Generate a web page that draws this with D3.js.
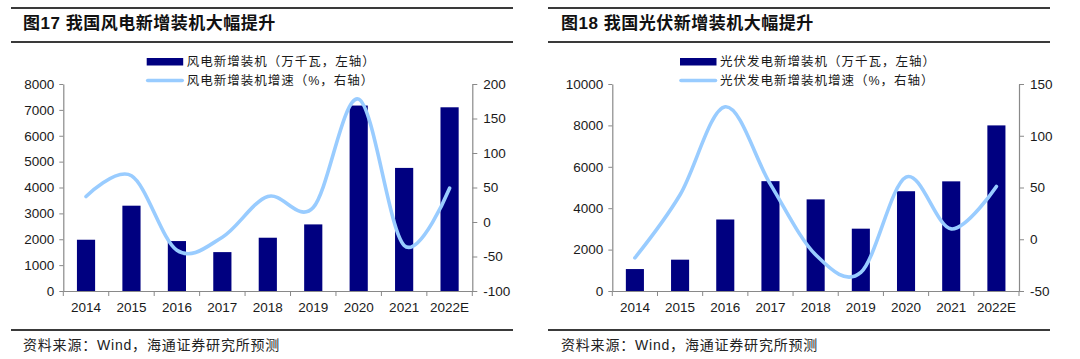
<!DOCTYPE html>
<html>
<head>
<meta charset="utf-8">
<script src="https://cdn.jsdelivr.net/npm/d3@7"></script>
<style>
  html, body { margin: 0; padding: 0; background: #fff; }
  svg { display: block; }
</style>
</head>
<body>
<svg id="chart" width="1080" height="359"></svg>
<script>
// ---------- data ----------
const categories = ['2014', '2015', '2016', '2017', '2018', '2019', '2020', '2021', '2022E'];

const windCapacity = [1981, 3297, 1930, 1503, 2059, 2574, 7167, 4757, 7100];
const windGrowth   = [37, 67, -41, -22, 37, 21, 178, -34, 49];
const windLeftTicks  = [0, 1000, 2000, 3000, 4000, 5000, 6000, 7000, 8000];
const windRightTicks = [-100, -50, 0, 50, 100, 150, 200];

const solarCapacity = [1060, 1513, 3454, 5306, 4426, 3011, 4820, 5297, 8000];
const solarGrowth   = [-18, 43, 128, 53, -15, -32, 60, 10, 51];
const solarLeftTicks  = [0, 2000, 4000, 6000, 8000, 10000];
const solarRightTicks = [-50, 0, 50, 100, 150];

const windTitle = '图17 我国风电新增装机大幅提升';
const solarTitle = '图18 我国光伏新增装机大幅提升';
const windLegend = ['风电新增装机（万千瓦，左轴）', '风电新增装机增速（%，右轴）'];
const solarLegend = ['光伏发电新增装机（万千瓦，左轴）', '光伏发电新增装机增速（%，右轴）'];
const sourceText = '资料来源：Wind，海通证券研究所预测';

// ---------- styles ----------
const BAR = '#000080';
const LINE = '#99CCFF';
const AXIS = '#898989';
const RULE = '#3a3a3a';
const TXT = '#1a1a1a';
const NUM_FONT = '"Liberation Sans", Arial, sans-serif';
const CJK_FONT = '"Liberation Sans", "Noto Sans CJK SC", sans-serif';
const fmt = d => String(d);

const svg = d3.select('#chart');
svg.append('rect').attr('width', 1080).attr('height', 359).attr('fill', '#fff');

function panel(cfg) {
  const g = svg.append('g');
  // rules
  [cfg.ruleTop, cfg.ruleMid, cfg.ruleBottom].forEach(y => {
    g.append('line').attr('x1', cfg.x0).attr('x2', cfg.x1).attr('y1', y).attr('y2', y)
      .attr('stroke', RULE).attr('stroke-width', 2.2);
  });
  // title
  g.append('text').attr('x', cfg.titleX).attr('y', 29)
    .attr('font-family', CJK_FONT).attr('font-size', 17).attr('font-weight', 'bold')
    .attr('letter-spacing', 0.5)
    .attr('fill', '#111').text(cfg.title);
  // source
  g.append('text').attr('x', cfg.titleX).attr('y', 350)
    .attr('font-family', CJK_FONT).attr('font-size', 14)
    .attr('letter-spacing', 0.8)
    .attr('fill', '#222').text(sourceText);

  const top = 84, bottom = 291;
  const x = d3.scaleBand().domain(categories).range([cfg.plotL, cfg.plotR])
    .paddingInner(0.6).paddingOuter(0.3);
  const yL = d3.scaleLinear().domain(cfg.leftDomain).range([bottom, top]);
  const yR = d3.scaleLinear().domain(cfg.rightDomain).range([bottom, top]);

  // bars
  g.append('g').selectAll('rect').data(cfg.cap).join('rect')
    .attr('x', (d, i) => x(categories[i]))
    .attr('width', x.bandwidth())
    .attr('y', d => yL(d))
    .attr('height', d => yL(0) - yL(d))
    .attr('fill', BAR);

  // left axis
  const aL = g.append('g').attr('transform', `translate(${cfg.plotL},0)`)
    .call(d3.axisLeft(yL).tickValues(cfg.leftTicks).tickFormat(fmt)
      .tickSize(4).tickPadding(5).tickSizeOuter(0));
  // right axis
  const aR = g.append('g').attr('transform', `translate(${cfg.plotR},0)`)
    .call(d3.axisRight(yR).tickValues(cfg.rightTicks).tickFormat(fmt)
      .tickSize(5).tickPadding(6).tickSizeOuter(0));
  // bottom axis labels
  const aB = g.append('g').attr('transform', `translate(0,${bottom})`)
    .call(d3.axisBottom(x).tickSize(0).tickPadding(11).tickSizeOuter(0));
  // boundary ticks on bottom axis
  const step = x.step();
  const x0 = x.range()[0];
  g.append('g').selectAll('line').data(d3.range(categories.length + 1)).join('line')
    .attr('x1', i => x0 + i * step).attr('x2', i => x0 + i * step)
    .attr('y1', bottom).attr('y2', bottom + 5)
    .attr('stroke', AXIS).attr('stroke-width', 1);

  [aL, aR, aB].forEach(a => {
    a.select('.domain').attr('stroke', AXIS).attr('stroke-width', 1.2);
    a.selectAll('.tick line').attr('stroke', AXIS);
    a.selectAll('.tick text').attr('font-family', NUM_FONT).attr('font-size', 13.5).attr('fill', TXT);
  });

  // growth line
  const line = d3.line()
    .x((d, i) => x(categories[i]) + x.bandwidth() / 2)
    .y(d => yR(d))
    .curve(d3.curveCardinal.tension(0));
  g.append('path').datum(cfg.growth).attr('d', line)
    .attr('fill', 'none').attr('stroke', LINE).attr('stroke-width', 3.6)
    .attr('stroke-linecap', 'round');

  // legend
  const lg = g.append('g');
  lg.append('rect').attr('x', cfg.legendX).attr('y', 58).attr('width', 36.5).attr('height', 7.5)
    .attr('fill', BAR);
  lg.append('line').attr('x1', cfg.legendX + 1).attr('x2', cfg.legendX + 35.5)
    .attr('y1', 80.5).attr('y2', 80.5)
    .attr('stroke', LINE).attr('stroke-width', 3.6).attr('stroke-linecap', 'round');
  lg.append('text').attr('x', cfg.legendX + 40).attr('y', 66)
    .attr('font-family', CJK_FONT).attr('font-size', 12.5).attr('letter-spacing', 1)
    .attr('fill', TXT).text(cfg.legend[0]);
  lg.append('text').attr('x', cfg.legendX + 40).attr('y', 85)
    .attr('font-family', CJK_FONT).attr('font-size', 12.5).attr('letter-spacing', 1)
    .attr('fill', TXT).text(cfg.legend[1]);
}

panel({
  x0: 11, x1: 513, ruleTop: 8, ruleMid: 42, ruleBottom: 330, titleX: 23,
  plotL: 63.3, plotR: 472.3, legendX: 146.7,
  leftDomain: [0, 8000], rightDomain: [-100, 200],
  leftTicks: windLeftTicks, rightTicks: windRightTicks,
  cap: windCapacity, growth: windGrowth, title: windTitle, legend: windLegend
});

panel({
  x0: 548, x1: 1050, ruleTop: 8, ruleMid: 42, ruleBottom: 330, titleX: 561,
  plotL: 612.3, plotR: 1019, legendX: 680,
  leftDomain: [0, 10000], rightDomain: [-50, 150],
  leftTicks: solarLeftTicks, rightTicks: solarRightTicks,
  cap: solarCapacity, growth: solarGrowth, title: solarTitle, legend: solarLegend
});
</script>
</body>
</html>
